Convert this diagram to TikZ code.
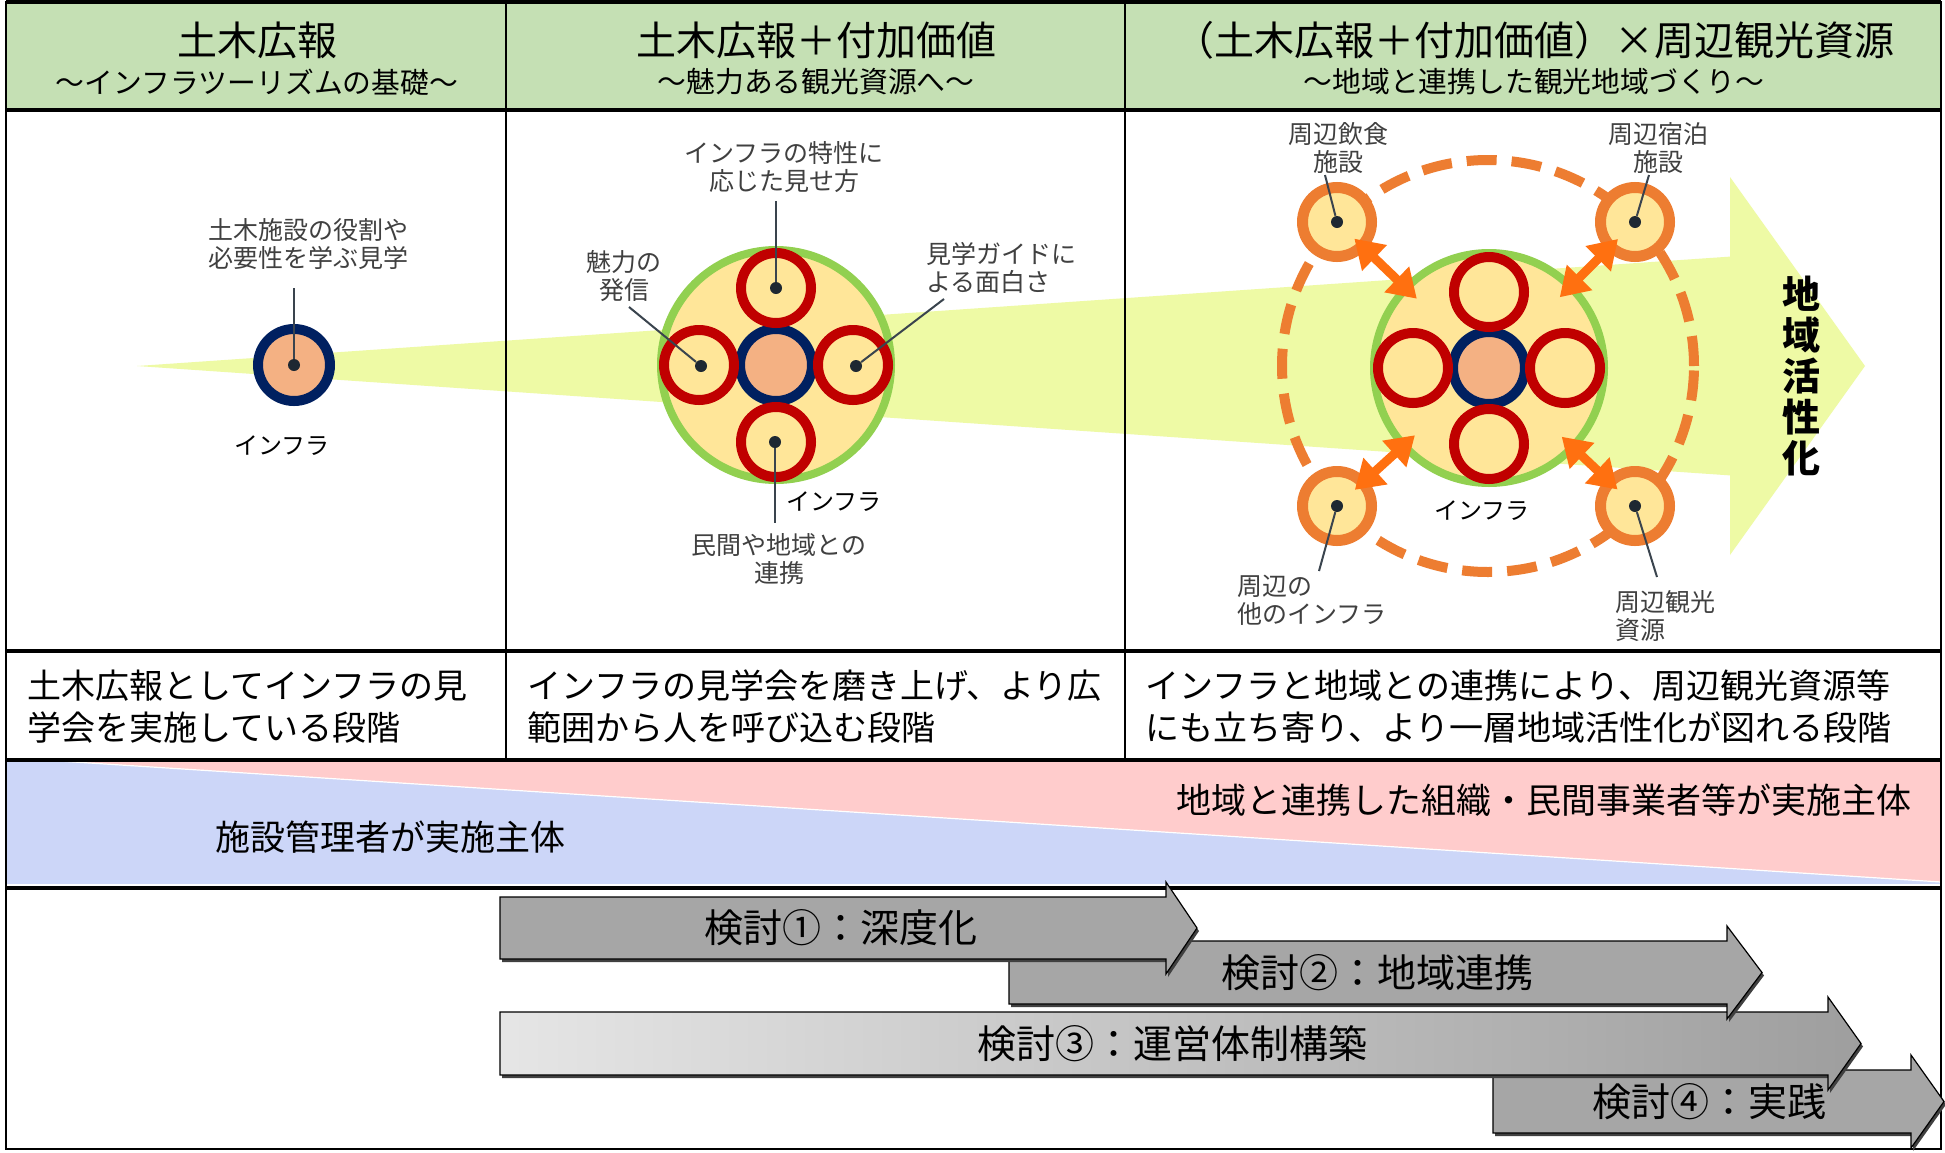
\documentclass[tikz,border=0pt]{standalone}
\usepackage{fontspec}
\setmainfont{Noto Sans CJK JP}
\usetikzlibrary{arrows.meta,calc}
\definecolor{hdr}{HTML}{C5E0B4}
\definecolor{wedgec}{HTML}{EEFAA5}
\definecolor{navyc}{HTML}{002060}
\definecolor{salmonc}{HTML}{F4B183}
\definecolor{creamc}{HTML}{FFE699}
\definecolor{lgreenc}{HTML}{92D050}
\definecolor{dredc}{HTML}{C00000}
\definecolor{orngc}{HTML}{ED7D31}
\definecolor{brorng}{HTML}{FF7010}
\definecolor{dotcol}{HTML}{1E2832}
\definecolor{leadcol}{HTML}{3A444E}
\definecolor{labcol}{HTML}{404040}
\definecolor{bluez}{HTML}{CCD6F8}
\definecolor{pinkz}{HTML}{FFCCCC}
\definecolor{arrg}{HTML}{A6A6A6}
\newcommand\ggarrow[7]{%
 \path[#1] (#2,#3) -- (#5,#3) -- (#5,{#3-#7}) -- (#6,{(#3+#4)/2}) -- (#5,{#4+#7}) -- (#5,#4) -- (#2,#4) -- cycle;}
\tikzset{
 lab/.style={text=labcol, font=\fontsize{12.5}{14}\selectfont, align=center, inner sep=0pt},
 labl/.style={lab, align=left},
 blk/.style={text=black, font=\fontsize{12}{14}\selectfont, inner sep=0pt},
 lead/.style={draw=leadcol, line width=1pt},
 dotn/.style={circle, fill=dotcol, inner sep=0pt, minimum size=6pt},
 corec/.style={circle, draw=navyc, line width=5pt, fill=salmonc, inner sep=0pt, minimum size=36pt},
 redring/.style={circle, draw=dredc, line width=5pt, fill=creamc, inner sep=0pt, minimum size=35pt},
 bigcirc/.style={circle, draw=lgreenc, line width=4pt, fill=creamc, inner sep=0pt, minimum size=115pt},
 satc/.style={circle, draw=orngc, line width=5.5pt, fill=creamc, inner sep=0pt, minimum size=34.5pt},
 dbl/.style={draw=brorng, line width=4.5pt, {Triangle[length=14pt,width=17pt]}-{Triangle[length=14pt,width=17pt]}},
 ttl/.style={font=\fontsize{20}{24}\selectfont, inner sep=0pt},
 subttl/.style={font=\fontsize{14.4}{17}\selectfont, inner sep=0pt},
 rowtxt/.style={font=\fontsize{17}{21}\selectfont, align=left, inner sep=0pt},
 arrtxt/.style={font=\fontsize{19.5}{22}\selectfont, inner sep=0pt},
 thinln/.style={draw=black, line width=1pt},
 thickln/.style={draw=black, line width=1.8pt},
 arrbody/.style={draw=black, line width=0.6pt},
 arrshadow/.style={fill=black!75, shift={(2,3)}}
}
\begin{document}
\begin{tikzpicture}[x=0.5pt,y=-0.5pt]
\useasboundingbox (0,0) rectangle (1945,1152);
\fill[white] (0,0) rectangle (1945,1152);
% header and row 4 backgrounds
\fill[hdr] (6,2) rectangle (1941,110);
\fill[bluez] (6,760) rectangle (1941,884);
\fill[pinkz] (43,760) -- (1941,760) -- (1941,882) -- cycle;
\draw[white, line width=0.6pt] (43,760) -- (1941,882);
% big light-green wedge arrow
\fill[wedgec] (137,366) -- (1730,256.6) -- (1730,177) -- (1865,366) -- (1730,555) -- (1730,475.4) -- cycle;

% header texts
\node[ttl] (h1) at (257,40) {土木広報};
\node[subttl] (h1s) at (257,82) {～インフラツーリズムの基礎～};
\node[ttl] (h2) at (816,40) {土木広報＋付加価値};
\node[subttl] (h2s) at (816,82) {～魅力ある観光資源へ～};
\node[ttl] (h3) at (1534,40) {（土木広報＋付加価値）×周辺観光資源};
\node[subttl] (h3s) at (1534,82) {～地域と連携した観光地域づくり～};

% ---- column 1
\node[corec] (core1) at (294,365) {};
\node[dotn] (d1) at (294,365) {};
\coordinate (e1) at (294,288);
\draw[lead] (d1) -- (e1);
\node[lab] (l1) at (308,244) {土木施設の役割や\\必要性を学ぶ見学};
\node[blk] (i1) at (282,446) {インフラ};

% ---- column 2
\node[bigcirc] (big2) at (776,365) {};
\node[corec] (core2) at (776,365) {};
\node[redring] (r2t) at (776,288) {};
\node[redring] (r2l) at (699,365) {};
\node[redring] (r2r) at (853,365) {};
\node[redring] (r2b) at (776,442) {};
\node[dotn] (d2t) at (776,288) {};
\node[dotn] (d2l) at (701,366) {};
\node[dotn] (d2r) at (856,366) {};
\node[dotn] (d2b) at (775,442) {};
\coordinate (e2t) at (776,201);
\coordinate (e2l) at (629,307);
\coordinate (e2r) at (944,299);
\coordinate (e2b) at (775,523);
\draw[lead] (d2t) -- (e2t);
\draw[lead] (d2l) -- (e2l);
\draw[lead] (d2r) -- (e2r);
\draw[lead] (d2b) -- (e2b);
\node[lab] (l2t) at (784,167) {インフラの特性に\\応じた見せ方};
\node[lab] (l2l) at (624,276) {魅力の\\発信};
\node[labl, anchor=west] (l2r) at (926,268) {見学ガイドに\\よる面白さ};
\node[lab] (l2b) at (779,559) {民間や地域との\\連携};
\node[blk] (i2) at (834,502) {インフラ};

% ---- column 3
\draw[orngc, line width=5pt, dash pattern=on 15pt off 7.5pt] (1488,366) circle[radius=103pt];
\node[bigcirc] (big3) at (1489,368) {};
\node[corec] (core3) at (1489,368) {};
\node[redring] (r3t) at (1489,292) {};
\node[redring] (r3l) at (1413,368) {};
\node[redring] (r3r) at (1565,368) {};
\node[redring] (r3b) at (1489,444) {};
\node[satc] (s1) at (1337,222) {};
\node[satc] (s2) at (1635,222) {};
\node[satc] (s3) at (1337,506) {};
\node[satc] (s4) at (1635,506) {};
\draw[dbl] ($(s1.center)!12pt!(big3.center)$) -- ($(big3.center)!50pt!(s1.center)$);
\draw[dbl] ($(s2.center)!12pt!(big3.center)$) -- ($(big3.center)!50pt!(s2.center)$);
\draw[dbl] ($(s3.center)!12pt!(big3.center)$) -- ($(big3.center)!50pt!(s3.center)$);
\draw[dbl] ($(s4.center)!12pt!(big3.center)$) -- ($(big3.center)!50pt!(s4.center)$);
\node[dotn] (d3a) at (1337,222) {};
\node[dotn] (d3b) at (1635,222) {};
\node[dotn] (d3c) at (1337,506) {};
\node[dotn] (d3d) at (1635,506) {};
\coordinate (e3a) at (1325,175);
\coordinate (e3b) at (1649,175);
\coordinate (e3c) at (1319,571);
\coordinate (e3d) at (1657,577);
\draw[lead] (d3a) -- (e3a);
\draw[lead] (d3b) -- (e3b);
\draw[lead] (d3c) -- (e3c);
\draw[lead] (d3d) -- (e3d);
\node[lab] (l3a) at (1338,148) {周辺飲食\\施設};
\node[lab] (l3b) at (1658,148) {周辺宿泊\\施設};
\node[labl, anchor=west] (l3c) at (1237,600) {周辺の\\他のインフラ};
\node[labl, anchor=west] (l3d) at (1615,616) {周辺観光\\資源};
\node[blk] (i3) at (1482,511) {インフラ};
\node[font=\fontsize{19}{20.5}\selectfont\bfseries, align=center, inner sep=0pt] (kas) at (1801,376) {地\\域\\活\\性\\化};

% ---- row 3 texts
\node[rowtxt, anchor=west] (t1) at (27,707) {土木広報としてインフラの見\\学会を実施している段階};
\node[rowtxt, anchor=west] (t2) at (527,707) {インフラの見学会を磨き上げ、より広\\範囲から人を呼び込む段階};
\node[rowtxt, anchor=west] (t3) at (1145,707) {インフラと地域との連携により、周辺観光資源等\\にも立ち寄り、より一層地域活性化が図れる段階};

% ---- row 4 texts
\node[rowtxt, font=\fontsize{17.5}{21}\selectfont, anchor=east] (r4a) at (1912,800) {地域と連携した組織・民間事業者等が実施主体};
\node[rowtxt, font=\fontsize{17.5}{21}\selectfont, anchor=west] (r4b) at (215,837) {施設管理者が実施主体};

% ---- table lines
\draw[thinln] (6,2) rectangle (1941,1149);
\foreach \yy in {2,110,651,760,888} { \draw[thickln] (6,\yy) -- (1941,\yy); }
\draw[thinln] (506,2) -- (506,760);
\draw[thinln] (1125,2) -- (1125,760);

% ---- row 5 arrows (drawn back to front)
\ggarrow{arrshadow}{1493}{1070}{1133}{1911}{1944}{15}
\ggarrow{arrbody, fill=arrg}{1493}{1070}{1133}{1911}{1944}{15}
\ggarrow{arrshadow}{500}{1012}{1075}{1828}{1861}{15}
\ggarrow{arrbody, left color=black!10, right color=black!38}{500}{1012}{1075}{1828}{1861}{15}
\ggarrow{arrshadow}{1009}{941}{1004}{1727}{1762}{15}
\ggarrow{arrbody, fill=arrg}{1009}{941}{1004}{1727}{1762}{15}
\ggarrow{arrshadow}{500}{897}{959}{1166}{1197}{15}
\ggarrow{arrbody, fill=arrg}{500}{897}{959}{1166}{1197}{15}
\node[arrtxt] (a1) at (841,928) {検討①：深度化};
\node[arrtxt] (a2) at (1377,973) {検討②：地域連携};
\node[arrtxt] (a3) at (1172,1044) {検討③：運営体制構築};
\node[arrtxt] (a4) at (1709,1102) {検討④：実践};
\end{tikzpicture}
\end{document}
